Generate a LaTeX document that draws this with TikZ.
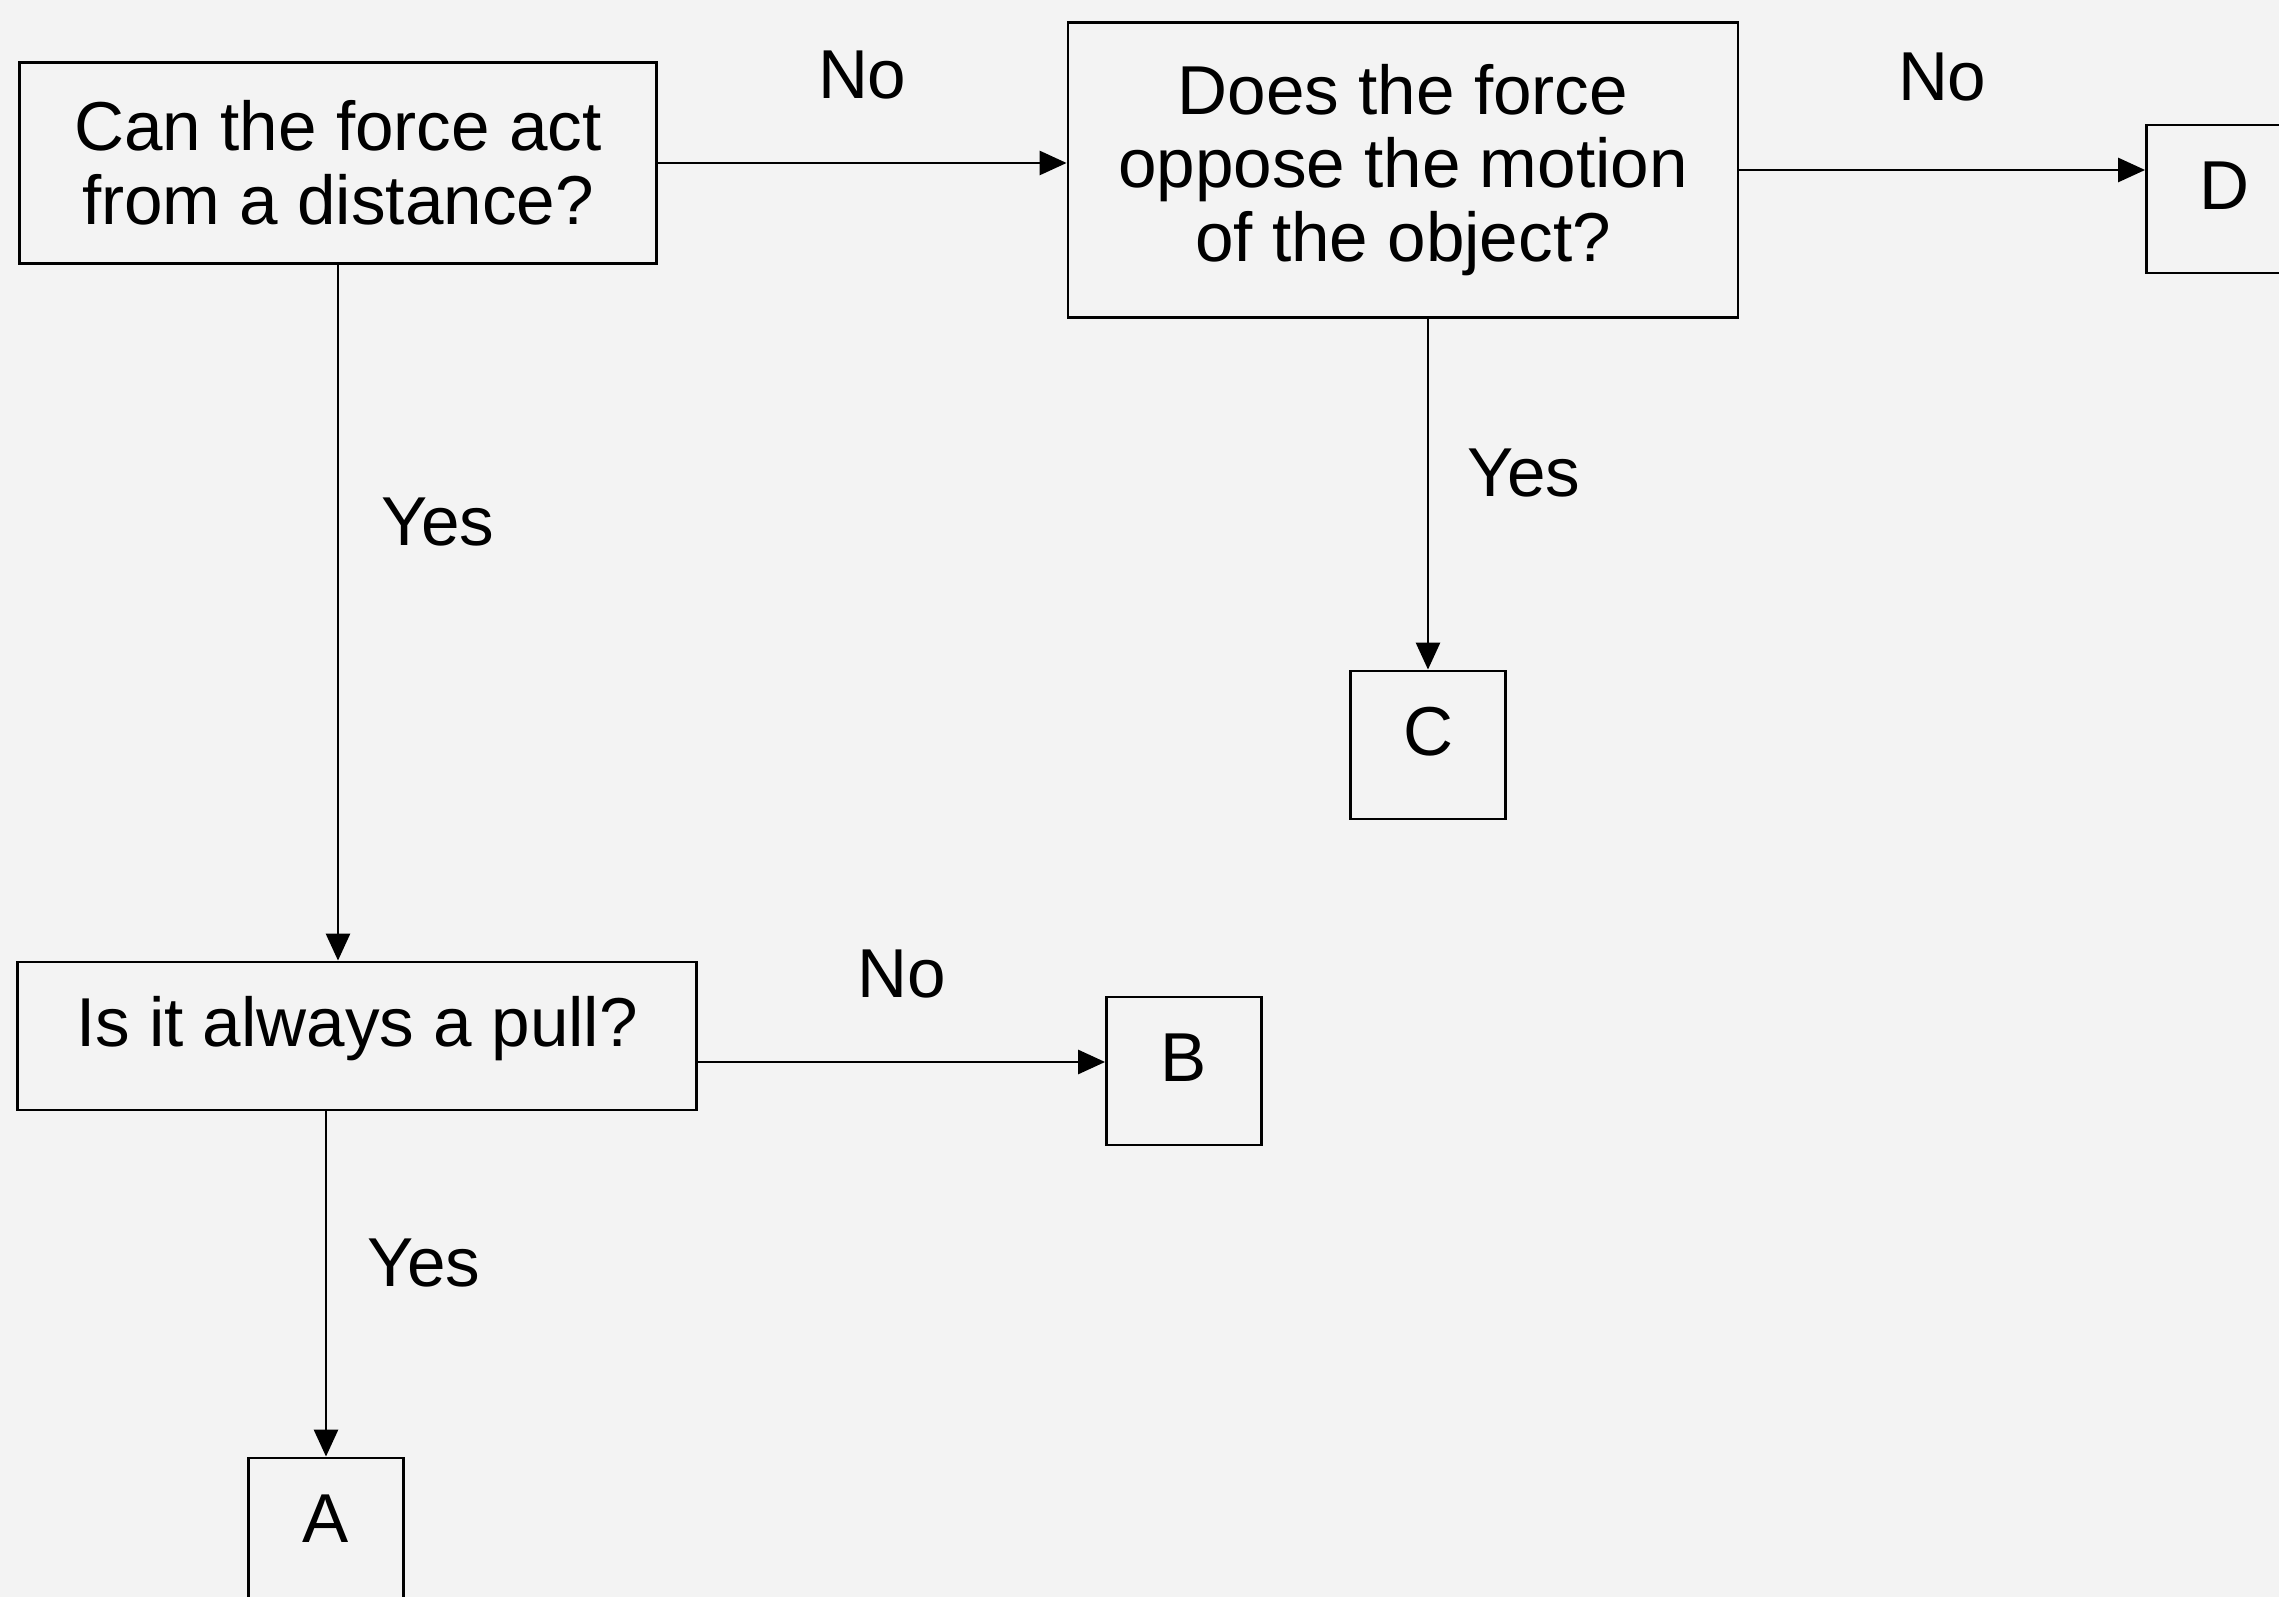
\documentclass[tikz,border=0pt]{standalone}
\usepackage{fontspec}
\setmainfont{Liberation Sans}
\usetikzlibrary{arrows.meta}
\definecolor{paper}{RGB}{243,243,243}

\begin{document}
\begin{tikzpicture}[
    box/.style={draw, line width=0.8pt, align=center, inner sep=0pt},
    letterbox/.style={box, minimum width=1.55cm, minimum height=1.48cm, text height=0.5cm, text depth=0.28cm},
    lbl/.style={inner sep=0pt},
    >={Triangle[length=0.27cm, width=0.24cm]},
    font=\fontsize{19.7}{21}\selectfont
  ]
    \fill[paper] (0, 0) rectangle (22.79, -15.97);
    \useasboundingbox (0, 0) rectangle (22.79, -15.97);

    \node[box, minimum width=6.37cm, minimum height=2.01cm] (Dist) at (3.38, -1.63) {Can the force act\\from a distance?};
    \node[box, minimum width=6.70cm, minimum height=2.95cm] (Oppose) at (14.03, -1.70) {Does the force\\oppose the motion\\of the object?};
    \node[box, minimum width=6.79cm, minimum height=1.48cm, text depth=0.3cm] (Pull) at (3.57, -10.36) {Is it always a pull?};
    \node[letterbox] (D) at (22.24, -1.99) {D};
    \node[letterbox] (C) at (14.28, -7.45) {C};
    \node[letterbox] (B) at (11.84, -10.71) {B};
    \node[letterbox] (A) at (3.26, -15.32) {A};

    \draw[->, line width=0.8pt] (Dist.east) -- (Dist.east -| Oppose.west) node[lbl, midway, yshift=0.88cm] {No};
    \draw[->, line width=0.8pt] (Oppose.east) -- (Oppose.east -| D.west) node[lbl, midway, yshift=0.93cm] {No};
    \draw[->, line width=0.8pt] (C.north |- Oppose.south) -- (C.north) node[lbl, pos=0.44, xshift=0.96cm] {Yes};
    \draw[->, line width=0.8pt] (Dist.south) -- (Dist.south |- Pull.north) node[lbl, pos=0.37, xshift=1cm] {Yes};
    \draw[->, line width=0.8pt] ([yshift=0.09cm]B.west -| Pull.east) -- ([yshift=0.09cm]B.west) node[lbl, midway, yshift=0.88cm] {No};
    \draw[->, line width=0.8pt] (A.north |- Pull.south) -- (A.north) node[lbl, pos=0.44, xshift=0.98cm] {Yes};
\end{tikzpicture}
\end{document}
